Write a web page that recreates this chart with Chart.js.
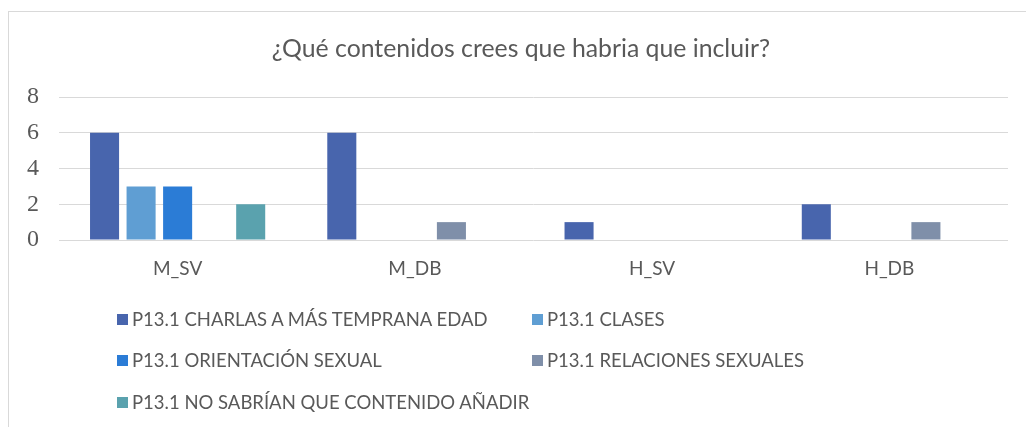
<!DOCTYPE html>
<html lang="es">
<head>
<meta charset="UTF-8">
<script src="https://cdn.jsdelivr.net/npm/chart.js@4.4.1/dist/chart.umd.min.js"></script>
<style>
  html, body { margin: 0; padding: 0; background: #fff; }
  #wrap {
    position: relative;
    width: 1026px;
    height: 427px;
    overflow: hidden;
  }
  #frame {
    position: absolute;
    left: 8px;
    top: 11px;
    width: 1030px;
    height: 430px;
    border-left: 1px solid #d9d9d9;
    border-top: 1px solid #d9d9d9;
  }
  #chart { position: absolute; left: 0; top: 0; }
  #title {
    position: absolute;
    left: 0;
    top: 33px;
    width: 1042px;
    height: 30px;
    line-height: 30px;
    text-align: center;
    font-family: Lato, sans-serif;
    font-size: 24.8px;
    color: #595959;
    white-space: nowrap;
  }
  #legend {
    position: absolute;
    left: 0;
    top: 0;
    width: 1026px;
    height: 427px;
    font-family: Lato, sans-serif;
    font-size: 18.5px;
    color: #595959;
  }
  .item {
    position: absolute;
    display: flex;
    align-items: center;
    height: 24px;
    line-height: 24px;
    white-space: nowrap;
  }
  .box { width: 11px; height: 11px; margin-right: 4px; }
</style>
</head>
<body>
<div id="wrap">
  <div id="frame"></div>
  <canvas id="chart" width="1026" height="427"></canvas>
  <div id="title"></div>
  <div id="legend"></div>
</div>
<script>
const titleText = '¿Qué contenidos crees que habria que incluir?';
const categories = ['M_SV', 'M_DB', 'H_SV', 'H_DB'];
const seriesNames = [
  'P13.1 CHARLAS A MÁS TEMPRANA EDAD',
  'P13.1 CLASES',
  'P13.1 ORIENTACIÓN SEXUAL',
  'P13.1 RELACIONES SEXUALES',
  'P13.1 NO SABRÍAN QUE CONTENIDO AÑADIR'
];
const charlas = [6, 6, 1, 2];
const clases = [3, 0, 0, 0];
const orientacion = [3, 0, 0, 0];
const relaciones = [0, 1, 0, 1];
const noSabrian = [2, 0, 0, 0];
const yTicks = [0, 2, 4, 6, 8];
const colors = ['#4865AD', '#5F9ED3', '#2B7CD6', '#7F8FA9', '#5AA2AE'];

const seriesValues = [charlas, clases, orientacion, relaciones, noSabrian];

document.getElementById('title').textContent = titleText;

const datasets = seriesNames.map((name, i) => ({
  label: name,
  data: seriesValues[i],
  backgroundColor: colors[i],
  borderWidth: 0,
  categoryPercentage: 0.77,
  barPercentage: 0.795
}));

const ctx = document.getElementById('chart').getContext('2d');
const chart = new Chart(ctx, {
  type: 'bar',
  data: { labels: categories, datasets: datasets },
  options: {
    responsive: false,
    animation: false,
    layout: { padding: { left: 0, right: 18, top: 97, bottom: 0 } },
    plugins: {
      legend: { display: false },
      tooltip: { enabled: false },
      title: { display: false }
    },
    scales: {
      x: {
        grid: { display: false },
        border: { display: false },
        ticks: {
          color: '#595959',
          font: { family: 'Lato', size: 19 },
          padding: 9
        },
        afterFit: (scale) => { scale.height = 187; }
      },
      y: {
        min: 0,
        max: 8,
        afterBuildTicks: (scale) => { scale.ticks = yTicks.map(v => ({ value: v })); },
        grid: { color: '#d9d9d9', lineWidth: 1, drawTicks: false },
        border: { display: false },
        ticks: {
          color: '#595959',
          font: { family: '"Liberation Serif", "DejaVu Serif", serif', size: 24 },
          padding: 20
        },
        afterFit: (scale) => { scale.width = 59; }
      }
    }
  }
});

// legend in two columns like the original
const legend = document.getElementById('legend');
const colX = [117, 532];
const rowY = [307, 348, 390];
seriesNames.forEach((name, i) => {
  const item = document.createElement('div');
  item.className = 'item';
  item.style.left = colX[i % 2] + 'px';
  item.style.top = rowY[Math.floor(i / 2)] + 'px';
  item.innerHTML = '<span class="box" style="background:' + colors[i] + '"></span><span>' + name + '</span>';
  legend.appendChild(item);
});
</script>
</body>
</html>
